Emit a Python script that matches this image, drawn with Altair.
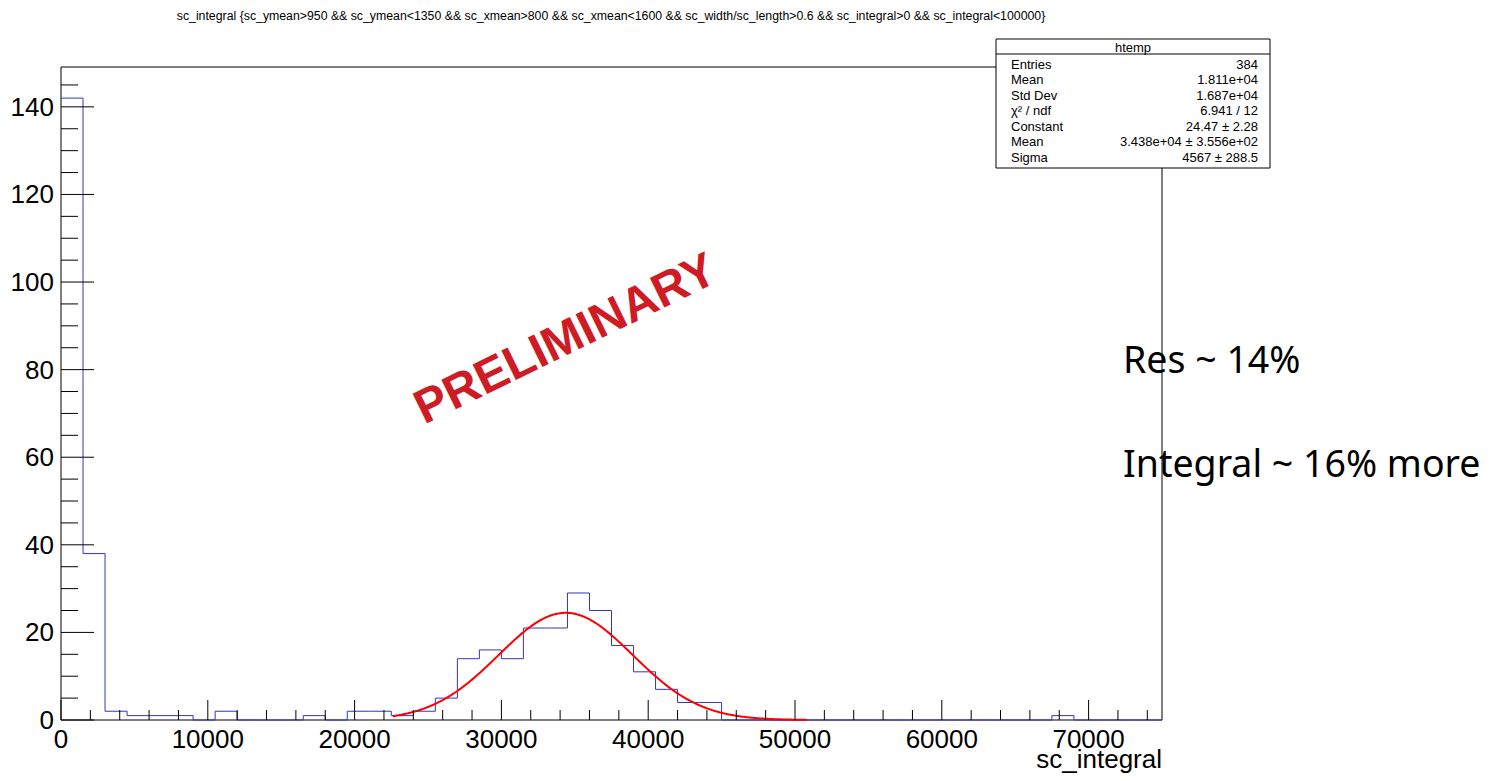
import altair as alt
import pandas as pd

FONT = "Liberation Sans"

# ---- data ----
bin_width = 1500
counts = [142, 38, 2, 1, 1, 1, 0, 2, 0, 0,
          0, 1, 0, 2, 2, 1, 2, 5, 14, 16,
          14, 21, 21, 29, 25, 17, 11, 7, 4, 4,
          0, 0, 0, 0, 0, 0, 0, 0, 0, 0,
          0, 0, 0, 0, 0, 1, 0, 0, 0, 0]
x_major = [0, 10000, 20000, 30000, 40000, 50000, 60000, 70000]
x_labels = ["0", "10000", "20000", "30000", "40000", "50000", "60000", "70000"]
x_minor = [v for v in range(0, 74001, 2000) if v % 10000 != 0]
y_major = [0, 20, 40, 60, 80, 100, 120, 140]
y_labels = ["0", "20", "40", "60", "80", "100", "120", "140"]
y_minor = [v for v in range(0, 146, 5) if v % 20 != 0]

fit_constant = 24.47
fit_mean = 34380
fit_sigma = 4567
fit_range = [22600, 50800]

stat_labels = ["Entries", "Mean", "Std Dev", "χ² / ndf", "Constant", "Mean", "Sigma"]
stat_values = ["384", "1.811e+04", "1.687e+04", "6.941 / 12", "24.47 ± 2.28",
               "3.438e+04 ± 3.556e+02", "4567 ± 288.5"]

title_text = ("sc_integral {sc_ymean>950 && sc_ymean<1350 && sc_xmean>800 && "
              "sc_xmean<1600 && sc_width/sc_length>0.6 && sc_integral>0 && sc_integral<100000}")

W, H = 1101, 653
xs = alt.Scale(domain=[0, 75000], nice=False, zero=False)
ys = alt.Scale(domain=[0, 149.1], nice=False, zero=False)

edges = [i * bin_width for i in range(len(counts) + 1)]
hist_df = pd.DataFrame({"x": edges, "count": counts + [counts[-1]]})

one = pd.DataFrame({"a": [0]})

frame = alt.Chart(one).mark_rect(fillOpacity=0, stroke="black", strokeWidth=1).encode(
    x=alt.value(0), x2=alt.value(W), y=alt.value(0), y2=alt.value(H))

hist = alt.Chart(hist_df).mark_line(interpolate="step-after", color="#3434c4", strokeWidth=1).encode(
    x=alt.X("x:Q", scale=xs, axis=None),
    y=alt.Y("count:Q", scale=ys, axis=None),
)

fit = alt.Chart(alt.sequence(fit_range[0], fit_range[1] + 1, 100, as_="x")).transform_calculate(
    y=f"{fit_constant}*exp(-0.5*pow((datum.x-{fit_mean})/{fit_sigma},2))"
).mark_line(color="#ff0000", strokeWidth=2).encode(
    x=alt.X("x:Q", scale=xs, axis=None), y=alt.Y("y:Q", scale=ys, axis=None))

xmaj = alt.Chart(pd.DataFrame({"v": x_major})).mark_rule(color="black", strokeWidth=1).encode(
    x=alt.X("v:Q", scale=xs, axis=None), y=alt.value(H), y2=alt.value(H - 20))
xmin = alt.Chart(pd.DataFrame({"v": x_minor})).mark_rule(color="black", strokeWidth=1).encode(
    x=alt.X("v:Q", scale=xs, axis=None), y=alt.value(H), y2=alt.value(H - 10))
ymaj = alt.Chart(pd.DataFrame({"v": y_major})).mark_rule(color="black", strokeWidth=1).encode(
    y=alt.Y("v:Q", scale=ys, axis=None), x=alt.value(0), x2=alt.value(33))
ymin = alt.Chart(pd.DataFrame({"v": y_minor})).mark_rule(color="black", strokeWidth=1).encode(
    y=alt.Y("v:Q", scale=ys, axis=None), x=alt.value(0), x2=alt.value(17))

xlab = alt.Chart(pd.DataFrame({"v": x_major, "t": x_labels})).mark_text(
    font=FONT, fontSize=26, align="center", baseline="alphabetic", color="black").encode(
    x=alt.X("v:Q", scale=xs, axis=None), y=alt.value(H + 28), text="t:N")
ylab = alt.Chart(pd.DataFrame({"v": y_major, "t": y_labels})).mark_text(
    font=FONT, fontSize=26, align="right", baseline="middle", color="black", dy=1).encode(
    y=alt.Y("v:Q", scale=ys, axis=None), x=alt.value(-7), text="t:N")

xtitle = alt.Chart(pd.DataFrame({"t": ["sc_integral"]})).mark_text(
    font=FONT, fontSize=26, align="right", baseline="alphabetic", color="black").encode(
    x=alt.value(W), y=alt.value(H + 48), text="t:N")

top_title = alt.Chart(pd.DataFrame({"t": [title_text]})).mark_text(
    font=FONT, fontSize=12.3, align="center", baseline="alphabetic", color="black").encode(
    x=alt.value(550), y=alt.value(-47), text="t:N")

box = alt.Chart(one).mark_rect(fill="white", stroke="black", strokeWidth=1).encode(
    x=alt.value(935), x2=alt.value(1209), y=alt.value(-28), y2=alt.value(101))
box_sep = alt.Chart(one).mark_rule(color="black", strokeWidth=1).encode(
    x=alt.value(935), x2=alt.value(1209), y=alt.value(-13))
box_title = alt.Chart(pd.DataFrame({"t": ["htemp"]})).mark_text(
    font=FONT, fontSize=13, align="center", baseline="alphabetic", color="black").encode(
    x=alt.value(1072), y=alt.value(-15.5), text="t:N")

stat_layers = []
for i, (lab, val) in enumerate(zip(stat_labels, stat_values)):
    yy = 1.5 + i * 15.5
    stat_layers.append(alt.Chart(pd.DataFrame({"t": [lab]})).mark_text(
        font=FONT, fontSize=13, align="left", baseline="alphabetic", color="black").encode(
        x=alt.value(950), y=alt.value(yy), text="t:N"))
    stat_layers.append(alt.Chart(pd.DataFrame({"t": [val]})).mark_text(
        font=FONT, fontSize=13, align="right", baseline="alphabetic", color="black").encode(
        x=alt.value(1197), y=alt.value(yy), text="t:N"))

prelim = alt.Chart(pd.DataFrame({"t": ["PRELIMINARY"]})).mark_text(
    font=FONT, fontSize=48, fontWeight="bold", align="center", baseline="middle",
    color="#cf1b24", angle=334).encode(
    x=alt.value(505), y=alt.value(273), text="t:N")

res1 = alt.Chart(pd.DataFrame({"t": ["Res ~ 14%"]})).mark_text(
    font="Noto Sans", fontSize=37.5, align="left", baseline="alphabetic", color="black").encode(
    x=alt.value(1062), y=alt.value(306), text="t:N")
res2 = alt.Chart(pd.DataFrame({"t": ["Integral ~ 16% more"]})).mark_text(
    font="Noto Sans", fontSize=37.5, align="left", baseline="alphabetic", color="black").encode(
    x=alt.value(1062), y=alt.value(410), text="t:N")

chart = alt.layer(
    frame, hist, fit, xmaj, xmin, ymaj, ymin, xlab, ylab, xtitle, top_title, prelim, res1, res2,
    box, box_sep, box_title, *stat_layers
).properties(
    width=W, height=H,
    padding={"left": 53, "top": 59, "right": 325, "bottom": 53},
    autosize=alt.AutoSizeParams(type="none"),
    background="white",
).configure_view(stroke=None)

chart.save("out.html", embed_options={"renderer": "svg", "actions": False})
